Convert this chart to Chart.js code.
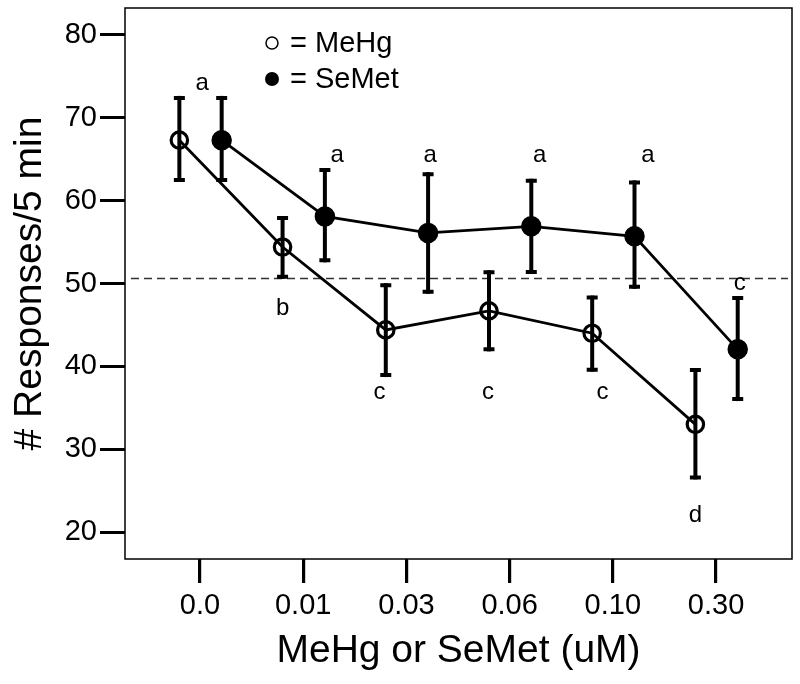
<!DOCTYPE html>
<html><head><meta charset="utf-8">
<script src="https://cdn.jsdelivr.net/npm/chart.js@4.4.0/dist/chart.umd.min.js"></script>
<style>html,body{margin:0;padding:0;background:#fff;}canvas{display:block}</style>
</head><body>
<canvas id="c" width="800" height="684"></canvas>
<script>
const categories = ['0.0','0.01','0.03','0.06','0.10','0.30'];
const mehgMean  = [67.3, 54.4, 44.4, 46.7, 44.0, 33.0];
const mehgUpper = [72.4, 57.9, 49.8, 51.35, 48.3, 39.55];
const mehgLower = [62.5, 50.8, 38.95, 42.05, 39.6, 26.6];
const semetMean  = [67.3, 58.1, 56.1, 56.9, 55.7, 42.05];
const semetUpper = [72.4, 63.7, 63.2, 62.4, 62.2, 48.25];
const semetLower = [62.5, 52.8, 49.0, 51.4, 49.6, 36.05];
const yTicks = [20, 30, 40, 50, 60, 70, 80];
const controlLevel = 50.6;
const letterText = ['a','a','a','a','a','c','b','c','c','c','d'];
const letterX = [0.02, 1.33, 2.23, 3.29, 4.34, 5.23, 0.80, 1.74, 2.79, 3.90, 4.80];
const letterY = [74.2, 65.5, 65.5, 65.5, 65.5, 50.05, 47.0, 36.8, 36.8, 36.8, 22.05];

const FONT = '"Liberation Sans", Arial, sans-serif';
const X_OFF_MEHG = -0.2, X_OFF_SEMET = 0.21;
const toPts = (arr, off) => arr.map((v, i) => ({x: i + off, y: v}));

const bgPlugin = {
  id: 'bg',
  beforeDraw(chart) {
    const c = chart.ctx;
    c.save(); c.fillStyle = '#fff'; c.fillRect(0, 0, chart.width, chart.height); c.restore();
  }
};
const boxPlugin = {
  id: 'box',
  beforeDatasetsDraw(chart) {
    const c = chart.ctx, a = chart.chartArea, y = chart.scales.y;
    c.save();
    c.strokeStyle = '#000'; c.lineWidth = 1.5;
    c.strokeRect(a.left, a.top, a.right - a.left, a.bottom - a.top);
    c.strokeStyle = '#333'; c.lineWidth = 1.5; c.setLineDash([8, 5]);
    const py = y.getPixelForValue(controlLevel);
    c.beginPath(); c.moveTo(a.left + 6, py); c.lineTo(a.right - 4, py); c.stroke();
    c.restore();
  }
};
const errPlugin = {
  id: 'err',
  afterDatasetsDraw(chart) {
    const c = chart.ctx, y = chart.scales.y;
    c.save(); c.strokeStyle = '#000'; c.lineWidth = 4; c.lineCap = 'butt';
    chart.data.datasets.forEach((ds, di) => {
      const meta = chart.getDatasetMeta(di);
      meta.data.forEach((pt, i) => {
        const x = pt.x, yt = y.getPixelForValue(ds.errUp[i]), yb = y.getPixelForValue(ds.errLo[i]);
        c.beginPath(); c.moveTo(x, yt - 2); c.lineTo(x, yb + 2); c.stroke();
        c.beginPath(); c.moveTo(x - 5.5, yt); c.lineTo(x + 5.5, yt); c.moveTo(x - 5.5, yb); c.lineTo(x + 5.5, yb); c.stroke();
      });
    });
    c.restore();
  }
};
const letterPlugin = {
  id: 'letters',
  afterDatasetsDraw(chart) {
    const c = chart.ctx, xs = chart.scales.x, ys = chart.scales.y;
    c.save(); c.fillStyle = '#000'; c.font = '24px ' + FONT; c.textAlign = 'center'; c.textBaseline = 'middle';
    letterText.forEach((t, i) => c.fillText(t, xs.getPixelForValue(letterX[i]), ys.getPixelForValue(letterY[i])));
    c.restore();
  }
};
const legendPlugin = {
  id: 'legendBox',
  afterDraw(chart) {
    const c = chart.ctx;
    c.save(); c.font = '29px ' + FONT; c.textBaseline = 'middle'; c.textAlign = 'left'; c.fillStyle = '#000';
    const items = [{y: 43, filled: false}, {y: 79, filled: true}];
    chart.data.datasets.forEach((ds, i) => {
      const it = items[i];
      c.beginPath(); c.arc(272, it.y, it.filled ? 7 : 6, 0, Math.PI * 2);
      if (it.filled) { c.fill(); } else { c.lineWidth = 1.5; c.strokeStyle = '#000'; c.stroke(); }
      c.fillText('= ' + ds.label, 290, it.y + 1);
    });
    c.restore();
  }
};

new Chart(document.getElementById('c'), {
  type: 'line',
  data: {datasets: [
    {label: 'MeHg', data: toPts(mehgMean, X_OFF_MEHG), borderColor: '#000', borderWidth: 2.8,
     pointRadius: 8.2, pointBorderWidth: 3.2, pointBackgroundColor: 'rgba(0,0,0,0)', pointBorderColor: '#000',
     errUp: mehgUpper, errLo: mehgLower},
    {label: 'SeMet', data: toPts(semetMean, X_OFF_SEMET), borderColor: '#000', borderWidth: 2.8,
     pointRadius: 9.5, pointBorderWidth: 1.5, pointBackgroundColor: '#000', pointBorderColor: '#000',
     errUp: semetUpper, errLo: semetLower}
  ]},
  options: {
    responsive: false, animation: false, devicePixelRatio: 1,
    layout: {autoPadding: false, padding: {top: 8, right: 8, left: 0, bottom: 0}},
    plugins: {legend: {display: false}, tooltip: {enabled: false}},
    scales: {
      x: {
        type: 'linear', min: -0.7267, max: 5.736,
        afterBuildTicks: s => { s.ticks = categories.map((c, i) => ({value: i})); },
        afterFit: s => { s.height = 125; s.paddingLeft = 0; s.paddingRight = 0; },
        ticks: {callback: v => categories[v], font: {family: FONT, size: 29}, color: '#000', padding: 6, maxRotation: 0, autoSkip: false},
        grid: {display: true, drawOnChartArea: false, drawTicks: true, tickLength: 24, tickWidth: 3.2, lineWidth: 3.2, color: '#000', tickColor: '#000'},
        border: {display: false},
        title: {display: true, text: 'MeHg or SeMet (uM)', font: {family: FONT, size: 39}, color: '#000', padding: {top: 0, bottom: 9}}
      },
      y: {
        type: 'linear', min: 16.75, max: 83.25,
        afterBuildTicks: s => { s.ticks = yTicks.map(v => ({value: v})); },
        afterFit: s => { s.width = 125; s.paddingTop = 0; s.paddingBottom = 0; },
        ticks: {font: {family: FONT, size: 29}, color: '#000', padding: 3},
        grid: {display: true, drawOnChartArea: false, drawTicks: true, tickLength: 25, tickWidth: 3, lineWidth: 3, color: '#000', tickColor: '#000'},
        border: {display: false},
        title: {display: true, text: '# Responses/5 min', font: {family: FONT, size: 39}, color: '#000', padding: {top: 7, bottom: 0}}
      }
    }
  },
  plugins: [bgPlugin, boxPlugin, errPlugin, letterPlugin, legendPlugin]
});
</script>
</body></html>
